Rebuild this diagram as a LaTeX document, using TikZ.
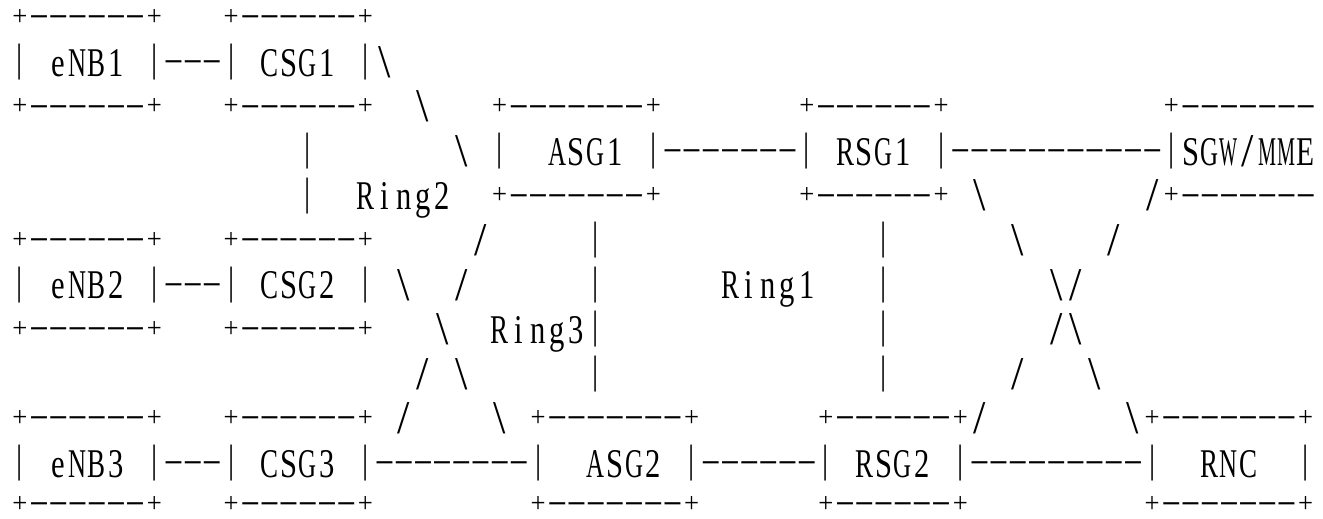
\documentclass[tikz,border=0pt]{standalone}
\usepackage{fontspec}
% condensed serif, one glyph per fixed-width cell
\newfontfamily\artfont[FakeStretch=0.75]{Liberation Serif}
\newlength\artcw
\setlength\artcw{19.19pt}
\newlength\artmid
\setlength\artmid{14pt}% height of the middle of a line above its baseline
\newsavebox\artglyph
\newcommand\bsl{\textbackslash}
% a glyph with its ink centred on the middle of the line
\newcommand\artcentred[1]{%
  \sbox\artglyph{#1}%
  \makebox[\artcw][c]{\raisebox{\dimexpr\artmid-(\ht\artglyph-\dp\artglyph)/2\relax}{\usebox\artglyph}}}
% drawing characters of the chart
\newcommand\artdash{\makebox[\artcw][c]{\raisebox{7.6pt}{\scalebox{2.0}[0.7]{-}}}}
\newcommand\artbar{\artcentred{\resizebox*{\width}{36pt}{|}}}
\newcommand\artplus{\artcentred{\resizebox*{15pt}{16pt}{+}}}
\newcommand\artslant[1]{\artcentred{\scalebox{1.45}[1.15]{#1}}}
% a letter cell: wide glyphs are narrowed to fit the cell
\newcommand\artletter[1]{%
  \sbox\artglyph{#1}%
  \ifdim\wd\artglyph>18pt
    \makebox[\artcw][c]{\resizebox{18pt}{\height}{\usebox\artglyph}}%
  \else
    \makebox[\artcw][c]{\usebox\artglyph}%
  \fi}
\ExplSyntaxOn
\cs_new_protected:Npn \art_cell:n #1
  {
    \tl_if_eq:nnTF {#1} {-} { \artdash }
      {
        \tl_if_eq:nnTF {#1} {|} { \artbar }
          {
            \tl_if_eq:nnTF {#1} {+} { \artplus }
              {
                \tl_if_eq:nnTF {#1} {.} { \hspace*{\artcw} }
                  {
                    \tl_if_eq:nnTF {#1} {/} { \artslant{/} }
                      {
                        \tl_if_eq:nnTF {#1} {\bsl} { \artslant{\bsl} }
                          { \artletter{#1} }
                      }
                  }
              }
          }
      }
  }
% one line of the chart; '.' stands for a blank cell
\NewDocumentCommand \artrow { m } { \tl_map_function:nN {#1} \art_cell:n }
\ExplSyntaxOff
\begin{document}
\begin{tikzpicture}[x=1pt,y=1pt,
  artline/.style={anchor=base west, inner sep=0pt, outer sep=0pt,
    font=\artfont\fontsize{40.8pt}{44pt}\selectfont}]
\useasboundingbox (0,0) rectangle (1323,-519);
\node[artline] (row0)  at (10.4,-31.5)  {\artrow{+------+...+------+}};
\node[artline] (row1)  at (10.4,-76.05) {\artrow{|.eNB1.|---|.CSG1.|\bsl}};
\node[artline] (row2)  at (10.4,-120.6) {\artrow{+------+...+------+..\bsl...+-------+.......+------+...........+-------}};
\node[artline] (row3)  at (10.4,-165.15){\artrow{...............|.......\bsl.|..ASG1.|-------|.RSG1.|-----------|SGW/MME}};
\node[artline] (row4)  at (10.4,-209.7) {\artrow{...............|..Ring2..+-------+.......+------+.\bsl......../+-------}};
\node[artline] (row5)  at (10.4,-254.25){\artrow{+------+...+------+...../.....|..............|......\bsl..../}};
\node[artline] (row6)  at (10.4,-298.8) {\artrow{|.eNB2.|---|.CSG2.|.\bsl../......|......Ring1...|........\bsl/}};
\node[artline] (row7)  at (10.4,-343.35){\artrow{+------+...+------+...\bsl..Ring3|..............|......../\bsl}};
\node[artline] (row8)  at (10.4,-387.9) {\artrow{...................../.\bsl......|..............|....../...\bsl}};
\node[artline] (row9)  at (10.4,-432.45){\artrow{+------+...+------+./....\bsl.+-------+......+------+/.......\bsl+-------+}};
\node[artline] (row10) at (10.4,-477.0) {\artrow{|.eNB3.|---|.CSG3.|--------|..ASG2.|------|.RSG2.|---------|..RNC..|}};
\node[artline] (row11) at (10.4,-518.3) {\artrow{+------+...+------+........+-------+......+------+.........+-------+}};
\end{tikzpicture}
\end{document}
